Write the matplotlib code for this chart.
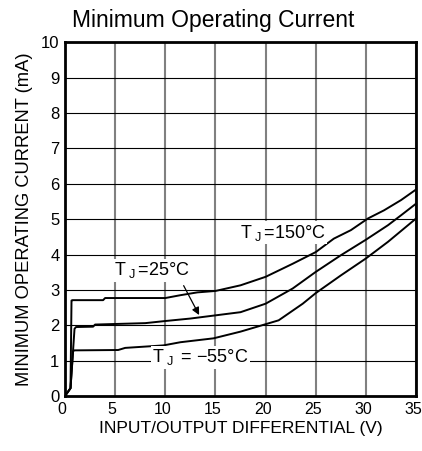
import matplotlib
matplotlib.use("Agg")
import matplotlib.pyplot as plt
from matplotlib.transforms import ScaledTranslation

plt.rcParams['font.family'] = ['Liberation Sans', 'DejaVu Sans']
plt.rcParams['mathtext.fontset'] = 'custom'
plt.rcParams['mathtext.rm'] = 'Liberation Sans'

# curve data
x150 = [0, 0.55, 0.65, 0.75, 3.8, 4.0, 10, 11.5, 13.2, 15, 17.5, 20, 22.7, 25, 26.8, 28.5, 30.2, 31.8, 33.5, 35]
y150 = [0, 0.22, 2.7, 2.71, 2.71, 2.77, 2.77, 2.85, 2.93, 2.97, 3.13, 3.37, 3.74, 4.07, 4.45, 4.69, 5.02, 5.25, 5.54, 5.84]

x25 = [0, 0.55, 0.95, 1.1, 2.8, 3.0, 8, 10, 12.5, 15, 17.5, 20, 22.7, 25, 27.5, 30, 32.2, 33.5, 35]
y25 = [0, 0.22, 1.9, 1.95, 1.96, 2.02, 2.06, 2.12, 2.19, 2.28, 2.37, 2.61, 3.04, 3.51, 3.98, 4.42, 4.83, 5.11, 5.44]

x55 = [0, 0.55, 0.8, 0.9, 5.3, 6, 9.8, 11.5, 14.8, 17.5, 20, 21.3, 23.7, 25, 27.5, 30, 32.2, 35]
y55 = [0, 0.22, 1.25, 1.29, 1.3, 1.36, 1.43, 1.52, 1.63, 1.82, 2.03, 2.14, 2.61, 2.91, 3.41, 3.89, 4.36, 5.02]

xticks = [0, 5, 10, 15, 20, 25, 30, 35]
yticks = list(range(0, 11))

fig = plt.figure(figsize=(4.22, 4.51), dpi=100)
ax = fig.add_axes([0.154, 0.122, 0.832, 0.784])

ax.plot(x150, y150, color='black', lw=1.4)
ax.plot(x25, y25, color='black', lw=1.4)
ax.plot(x55, y55, color='black', lw=1.4)

ax.set_xlim(0, 35)
ax.set_ylim(0, 10)
ax.set_xticks(xticks)
ax.set_yticks(yticks)
ax.tick_params(length=0, labelsize=12, pad=4)
ax.tick_params(axis='x', labelsize=11.5)
shift = ScaledTranslation(-3 / 100, 0, fig.dpi_scale_trans)
for lab in ax.get_xticklabels():
    lab.set_transform(lab.get_transform() + shift)
ax.xaxis.grid(True, color='#808080', lw=1.5)
ax.yaxis.grid(True, color='black', lw=0.8)
ax.set_axisbelow(True)
for s in ax.spines.values():
    s.set_linewidth(2)

box = dict(facecolor='white', edgecolor='none', pad=1)
ax.text(17.4, 4.62, r'T$\,_\mathrm{J}\,$=150°C', fontsize=13, va='center', ha='left', bbox=box)
ax.text(4.9, 3.55, r'T$\,_\mathrm{J}\,$=25°C', fontsize=13, va='center', ha='left', bbox=box)
ax.text(8.7, 1.1, r'T$\,_\mathrm{J}\,$ = $-$55°C', fontsize=13, va='center', ha='left', bbox=box)
ax.annotate('', xy=(13.5, 2.22), xytext=(11.7, 3.19),
            arrowprops=dict(arrowstyle='-|>', color='black', lw=0.9, mutation_scale=11))

ax.set_xlabel('INPUT/OUTPUT DIFFERENTIAL (V)', fontsize=12.5, labelpad=3)
ax.set_ylabel('MINIMUM OPERATING CURRENT (mA)', fontsize=13.2, labelpad=6)
fig.text(0.505, 0.955, 'Minimum Operating Current', fontsize=16.5, ha='center', va='center')

fig.savefig('out.png', dpi=100)
